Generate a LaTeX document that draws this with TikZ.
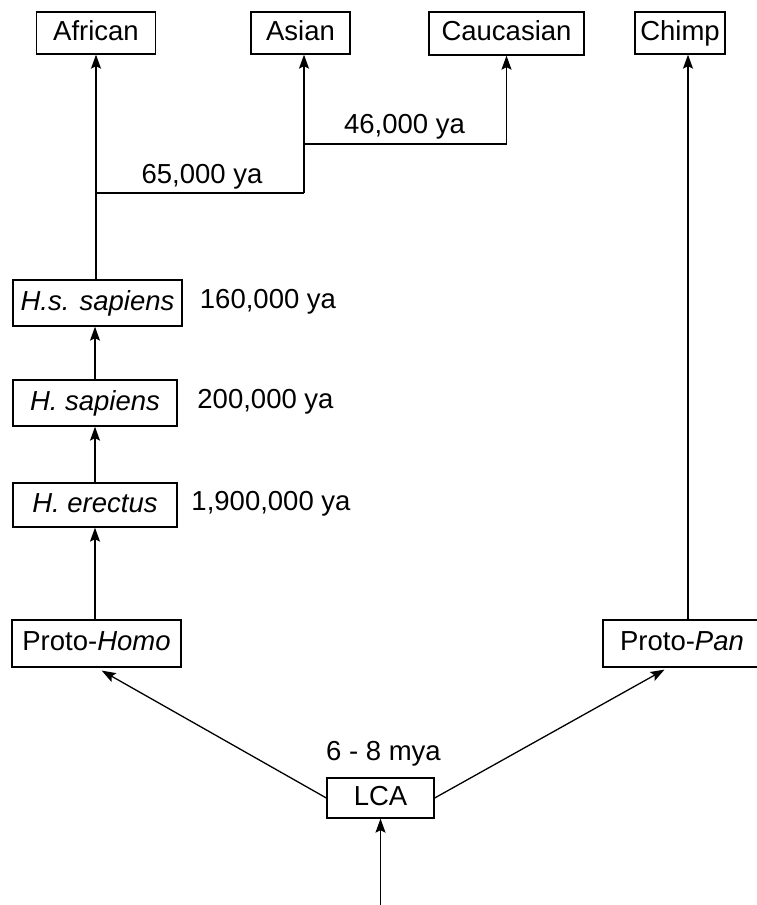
\documentclass[tikz,border=0pt]{standalone}
\usepackage{fontspec}
\setmainfont{Liberation Sans}
\usetikzlibrary{arrows.meta,calc}
\begin{document}
\begin{tikzpicture}[x=1pt,y=-1pt,
  box/.style={draw,line width=1.3pt,inner sep=0pt,font=\fontsize{27.5}{30}\selectfont,
    text height=19.5pt,text depth=5pt,anchor=center},
  lbl/.style={inner sep=0pt,anchor=base,font=\fontsize{27.5}{30}\selectfont},
  conn/.style={line width=1.3pt},
  arr/.style={conn,-{Stealth[length=14pt,width=10pt,inset=2.5pt]}}]
\useasboundingbox (0,0) rectangle (757,905);
\fill[white] (0,0) rectangle (757,905);
\clip (0,0) rectangle (757,905);
% boxes
\node[box,minimum width=119pt,minimum height=42pt] (african) at (96,33) {African};
\node[box,minimum width=99pt,minimum height=42pt] (asian) at (300.5,33) {Asian};
\node[box,minimum width=155pt,minimum height=43pt] (caucasian) at (506.5,33.5) {Caucasian};
\node[box,minimum width=90pt,minimum height=42pt] (chimp) at (680,33) {Chimp};
\node[box,minimum width=169pt,minimum height=46pt] (hss) at (97.5,303) {\itshape H.s. sapiens};
\node[box,minimum width=164pt,minimum height=46pt] (hs) at (95,403) {\itshape H. sapiens};
\node[box,minimum width=164pt,minimum height=44pt] (he) at (95,505) {\itshape H. erectus};
\node[box,minimum width=169pt,minimum height=47pt] (homo) at (96.5,643.5) {Proto-\textit{Homo}};
\node[box,minimum width=170pt,minimum height=47pt] (pan) at (688,643.5) {\hspace*{-12pt}Proto-\textit{Pan}};
\node[box,minimum width=107pt,minimum height=40pt] (lca) at (380.5,798) {LCA};
% labels
\node[lbl] (l65) at (202,183) {65,000 ya};
\node[lbl] (l46) at (404.5,133) {46,000 ya};
\node[lbl] (l160) at (268,308) {160,000 ya};
\node[lbl] (l200) at (265.5,408) {200,000 ya};
\node[lbl] (l19) at (271,510) {1,900,000 ya};
\node[lbl] (l68) at (383.5,760) {6 - 8 mya};
% junctions
\coordinate (j1) at (96,193);
\coordinate (j2) at (304,193);
\coordinate (j3) at (304,144);
\coordinate (j4) at (506.5,144);
\coordinate (root) at (380.5,905);
% connectors
\draw[arr] (root) -- (lca.south);
\draw[arr,shorten >=6pt] (lca.west) -- (homo.south);
\draw[arr,shorten >=4pt] (lca.east) -- ($(pan.south)+(-20,0)$);
\draw[arr] (pan.north) -- (pan.north |- chimp.south);
\draw[arr] (homo.north -| he.south) -- (he.south);
\draw[arr] (he.north) -- (hs.south);
\draw[arr] (hs.north) -- (hs.north |- hss.south);
\draw[arr] (hss.north -| african.south) -- (african.south);
\draw[conn] (j1) -- (j2);
\draw[arr] (j2) -- (j2 |- asian.south);
\draw[arr] (j3) -- (j4) -- (caucasian.south);
\end{tikzpicture}
\end{document}
